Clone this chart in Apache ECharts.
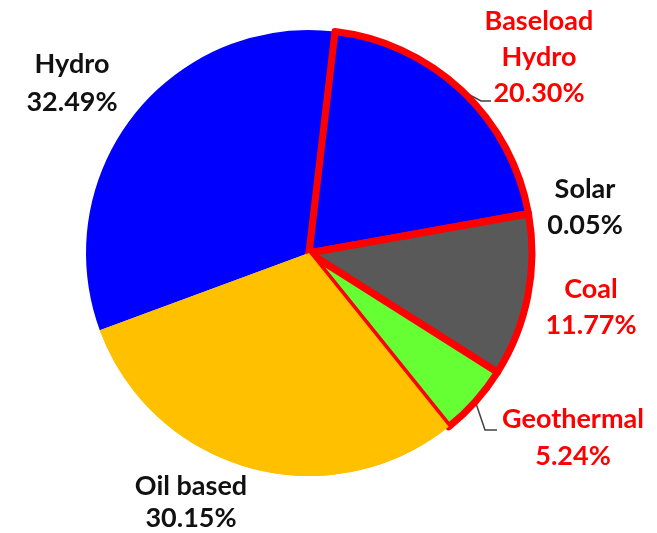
<!DOCTYPE html>
<html>
<head>
<meta charset="utf-8">
<script src="https://cdn.jsdelivr.net/npm/echarts@6/dist/echarts.min.js"></script>
<style>
html,body{margin:0;padding:0;background:#fff;}
#chart{width:657px;height:533px;}
</style>
</head>
<body>
<div id="chart"></div>
<script>
// Data (clockwise from top)
const categories = ['Baseload\nHydro', 'Solar', 'Coal', 'Geothermal', 'Oil based', 'Hydro'];
const shares = [20.30, 0.05, 11.77, 5.24, 30.15, 32.49];
const highlighted = [true, true, true, true, false, false];

// Styles / layout (kept separate from data)
const fills = ['#0000FF', '#595959', '#595959', '#66FF33', '#FFC000', '#0000FF'];
const textColors = ['#FF0000', '#111111', '#FF0000', '#FF0000', '#111111', '#111111'];
const labelCenters = [[539, 57], [585, 207], [591, 307], [573, 438], [191, 502], [72, 83]];
const lineHeights = [36, 36, 36, 37, 32, 38];
const showLine = [true, false, false, true, false, false];
const linePts = {
  0: [[-58, 44], [-48, 44]],
  3: [[-88, -8], [-76, -8]]
};
const CX = 309, CY = 253, R = 223, START = 83.3;

const chart = echarts.init(document.getElementById('chart'), null, {renderer: 'canvas'});

const baseData = categories.map((c, i) => ({
  name: c,
  value: shares[i],
  itemStyle: {color: fills[i], borderWidth: 0},
  label: {color: textColors[i], lineHeight: lineHeights[i]},
  labelLine: {show: showLine[i]}
}));

const overlayData = categories.map((c, i) => ({
  name: c,
  value: shares[i],
  itemStyle: highlighted[i]
    ? {color: fills[i], borderColor: '#FF0000', borderWidth: 7, borderJoin: 'round'}
    : (i === 4 ? {color: fills[i], borderWidth: 0} : {color: 'rgba(0,0,0,0)', borderWidth: 0})
}));

const option = {
  animation: false,
  backgroundColor: '#ffffff',
  series: [
    {
      type: 'pie',
      center: [CX, CY],
      radius: [0, R],
      startAngle: START,
      clockwise: true,
      avoidLabelOverlap: false,
      data: baseData,
      label: {
        show: true,
        position: 'outside',
        fontFamily: 'Lato',
        fontWeight: 'bold',
        fontSize: 27,
        align: 'center',
        formatter: p => p.name + '\n' + p.value.toFixed(2) + '%'
      },
      labelLine: {
        show: false,
        length: 10,
        length2: 10,
        lineStyle: {color: '#404040', width: 1.5}
      },
      labelLayout: function (params) {
        const i = params.dataIndex;
        const c = labelCenters[i];
        const res = {x: c[0], y: c[1], align: 'center', verticalAlign: 'middle'};
        if (linePts[i]) {
          let p0;
          if (params.labelLinePoints && params.labelLinePoints[0]) {
            p0 = params.labelLinePoints[0];
          } else {
            let before = 0;
            for (let k = 0; k < i; k++) before += shares[k];
            const mid = (before + shares[i] / 2) / 100 * 2 * Math.PI;
            const a0 = (90 - START) * Math.PI / 180;
            p0 = [CX + R * Math.sin(a0 + mid), CY - R * Math.cos(a0 + mid)];
          }
          res.labelLinePoints = [
            [p0[0], p0[1]],
            [c[0] + linePts[i][0][0], c[1] + linePts[i][0][1]],
            [c[0] + linePts[i][1][0], c[1] + linePts[i][1][1]]
          ];
        }
        return res;
      },
      emphasis: {disabled: true}
    },
    {
      type: 'pie',
      center: [CX, CY],
      radius: [0, R],
      startAngle: START,
      clockwise: true,
      silent: true,
      data: overlayData,
      label: {show: false},
      labelLine: {show: false},
      emphasis: {disabled: true}
    }
  ]
};
chart.setOption(option);
</script>
</body>
</html>
